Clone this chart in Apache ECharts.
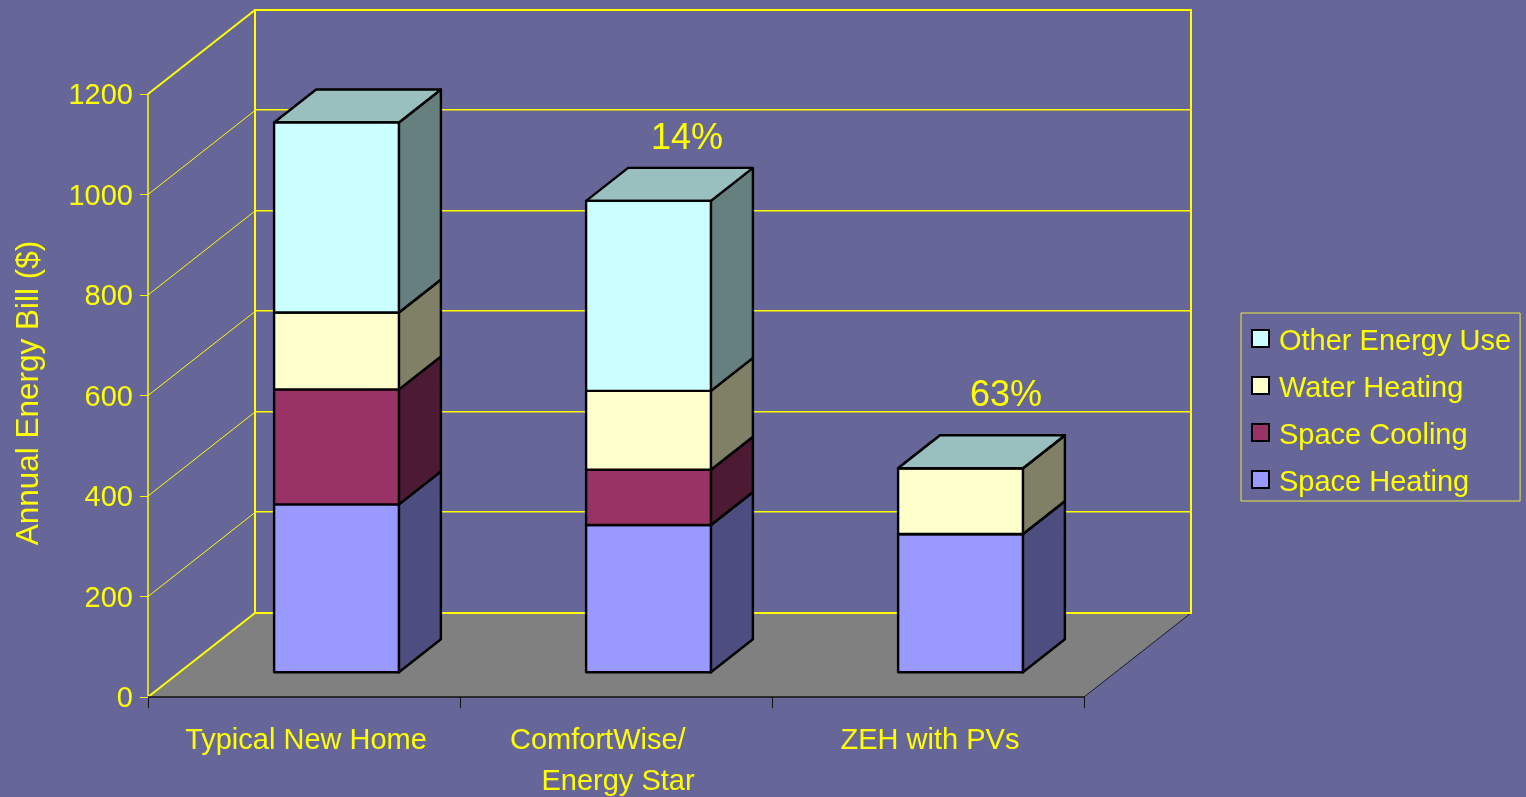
<!DOCTYPE html>
<html>
<head>
<meta charset="utf-8">
<style>html,body{margin:0;padding:0;background:#666699;overflow:hidden}#c{width:1526px;height:797px}</style>
<script src="https://cdn.jsdelivr.net/npm/echarts@6/dist/echarts.min.js"></script>
</head>
<body>
<div id="c"></div>
<script>
const categories = ['Typical New Home', 'ComfortWise/     \nEnergy Star', 'ZEH with PVs'];
const spaceHeating = [334, 293, 275];
const spaceCooling = [229, 110, 0];
const waterHeating = [153, 157, 131];
const otherEnergy = [378, 378, 0];
const yTicks = [0, 200, 400, 600, 800, 1000, 1200];
const savingsLabels = ['', '14%', '63%'];

const YELLOW = '#ffff00';
const FONT = '"Liberation Sans", Arial, sans-serif';
const WALL = { dx: 107, dy: -84 };
const BAR = { dx: 42, dy: -33, widthRatio: 0.4, floorX: 32.5, floorY: -24.75 };
const LABEL_NUDGE = [[0, 0], [71, -87], [78, -97]];

const stacks = [
  { name: 'Space Heating', values: spaceHeating, front: '#9999ff', top: '#7a7acc', side: '#4d4d80' },
  { name: 'Space Cooling', values: spaceCooling, front: '#993366', top: '#7a2952', side: '#4d1a33' },
  { name: 'Water Heating', values: waterHeating, front: '#ffffcc', top: '#bfbf99', side: '#808066' },
  { name: 'Other Energy Use', values: otherEnergy, front: '#ccffff', top: '#99bfbf', side: '#668080' }
];

function renderBackdrop(params, api) {
  const band = api.size([1, 0])[0];
  const x0 = api.coord([0, 0])[0] - band / 2;
  const x1 = api.coord([categories.length - 1, 0])[0] + band / 2;
  const yOf = v => api.coord([0, v])[1];
  const yBase = yOf(0);
  const yTop = yOf(yTicks[yTicks.length - 1]);
  const bx0 = x0 + WALL.dx, bx1 = x1 + WALL.dx;
  const children = [];
  children.push({ type: 'polygon', shape: { points: [[x0, yBase], [x1, yBase], [bx1, yBase + WALL.dy], [bx0, yBase + WALL.dy]] }, style: { fill: '#808080', stroke: null } });
  children.push({ type: 'line', shape: { x1: x1, y1: yBase, x2: bx1, y2: yBase + WALL.dy }, style: { stroke: '#1a1a33', lineWidth: 1 } });
  yTicks.forEach(v => {
    const y = yOf(v);
    const isEnd = v === 0 || v === yTicks[yTicks.length - 1];
    children.push({ type: 'line', shape: { x1: x0, y1: y, x2: bx0, y2: y + WALL.dy }, style: { stroke: YELLOW, lineWidth: isEnd ? 2 : 1 } });
    if (!isEnd) {
      const by = Math.floor(y + WALL.dy) - 0.25;
      children.push({ type: 'line', shape: { x1: bx0, y1: by, x2: bx1, y2: by }, style: { stroke: YELLOW, lineWidth: 1.5 } });
    }
  });
  children.push({ type: 'rect', shape: { x: bx0, y: yTop + WALL.dy, width: bx1 - bx0, height: yBase - yTop }, style: { fill: null, stroke: YELLOW, lineWidth: 2 } });
  return { type: 'group', children: children };
}

function renderSegment(stack) {
  return function (params, api) {
    const cat = api.value(0);
    const band = api.size([1, 0])[0];
    const w = band * BAR.widthRatio;
    const cb = api.coord([cat, api.value(1)]);
    const ct = api.coord([cat, api.value(2)]);
    const l = cb[0] + BAR.floorX - w / 2, r = l + w;
    const b = cb[1] + BAR.floorY, t = ct[1] + BAR.floorY;
    const d = BAR.dx, e = BAR.dy;
    const line = { stroke: '#000', lineWidth: 2.4, lineJoin: 'round' };
    return {
      type: 'group',
      children: [
        { type: 'polygon', shape: { points: [[r, b], [r + d, b + e], [r + d, t + e], [r, t]] }, style: Object.assign({ fill: stack.side }, line) },
        { type: 'polygon', shape: { points: [[l, t], [r, t], [r + d, t + e], [l + d, t + e]] }, style: Object.assign({ fill: stack.top }, line) },
        { type: 'rect', shape: { x: l, y: t, width: w, height: b - t }, style: Object.assign({ fill: stack.front }, line) }
      ]
    };
  };
}

function stackData(idx) {
  return categories.map((_, c) => {
    let base = 0;
    for (let i = 0; i < idx; i++) base += stacks[i].values[c];
    return [c, base, base + stacks[idx].values[c]];
  });
}

const totals = categories.map((_, c) => stacks.reduce((s, st) => s + st.values[c], 0));

const series = [{
  type: 'custom', name: 'backdrop', silent: true, z: 1, clip: false,
  data: [[0, 0]], encode: { x: 0, y: 1 }, renderItem: renderBackdrop
}];
stacks.forEach((st, i) => {
  series.push({
    type: 'custom', name: st.name, z: 3 + i, clip: false,
    itemStyle: { color: st.front },
    data: stackData(i), encode: { x: 0, y: [1, 2] },
    renderItem: renderSegment(st)
  });
});
series.push({
  type: 'custom', name: 'savings', silent: true, z: 9, clip: false,
  data: categories.map((_, c) => [c, totals[c]]), encode: { x: 0, y: 1 },
  renderItem: function (params, api) {
    const c = api.value(0);
    const p = api.coord([c, api.value(1)]);
    return { type: 'text', style: {
      x: p[0] + LABEL_NUDGE[c][0], y: p[1] + LABEL_NUDGE[c][1],
      text: savingsLabels[c], fill: YELLOW, font: '36px ' + FONT, textAlign: 'center', textVerticalAlign: 'middle'
    } };
  }
});

const chart = echarts.init(document.getElementById('c'), null, { renderer: 'canvas' });
chart.setOption({
  animation: false,
  backgroundColor: '#666699',
  textStyle: { fontFamily: FONT },
  grid: { left: 148, top: 94, width: 936, height: 603, containLabel: false, outerBoundsMode: 'none' },
  legend: {
    left: 1241, top: 313,
    orient: 'vertical',
    data: stacks.slice().reverse().map(s => s.name),
    icon: 'rect', itemWidth: 17, itemHeight: 17, itemGap: 11,
    padding: [7.5, 9, 3.5, 10],
    borderColor: '#e8e840', borderWidth: 1,
    formatter: n => '{t|' + n + '}',
    textStyle: {
      color: YELLOW, fontSize: 29, fontFamily: FONT,
      rich: { t: { color: YELLOW, fontSize: 29, fontFamily: FONT, lineHeight: 34, padding: [7, 0, 0, 5] } }
    },
    itemStyle: { borderColor: '#000', borderWidth: 2 },
    selectedMode: false
  },
  xAxis: {
    type: 'category', data: categories, z: 5,
    axisLine: { lineStyle: { color: '#111', width: 1.5 } },
    axisTick: { show: true, length: 11, lineStyle: { color: '#111', width: 1 } },
    axisLabel: { color: YELLOW, fontSize: 29, fontFamily: FONT, lineHeight: 41, margin: 23, interval: 0, padding: [0, 0, 0, 4] }
  },
  yAxis: {
    type: 'value', min: 0, max: 1200, interval: 200, z: 5,
    name: 'Annual Energy Bill ($)', nameLocation: 'middle', nameRotate: 90, nameGap: 103,
    nameTextStyle: { color: YELLOW, fontSize: 31.5, fontFamily: FONT, padding: [0, 0, 0, 5] },
    axisLine: { show: true, lineStyle: { color: YELLOW, width: 1.5 } },
    axisTick: { show: true, length: 8, lineStyle: { color: YELLOW, width: 1 } },
    axisLabel: { color: YELLOW, fontSize: 29, fontFamily: FONT, margin: 15, verticalAlign: 'top', lineHeight: 4, formatter: v => String(v) },
    splitLine: { show: false }
  },
  tooltip: { show: false },
  series: series
});
</script>
</body>
</html>
